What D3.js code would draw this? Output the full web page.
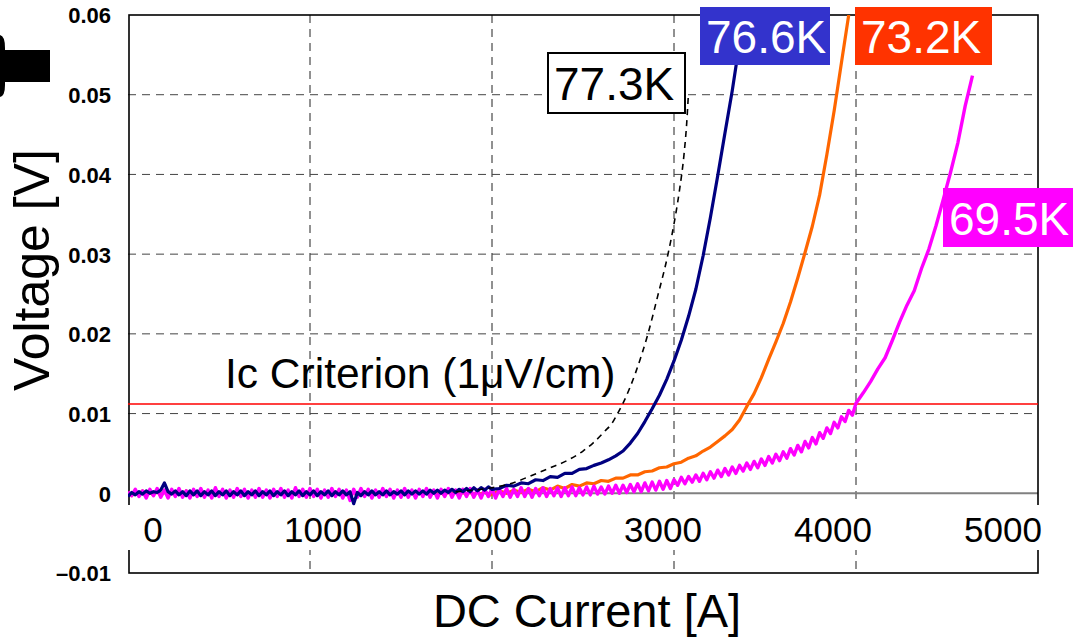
<!DOCTYPE html>
<html>
<head>
<meta charset="utf-8">
<script src="https://cdn.jsdelivr.net/npm/d3@7"></script>
<style>
  body { margin: 0; background: #fff; }
  svg text { font-family: "Liberation Sans", Arial, Helvetica, sans-serif; }
</style>
</head>
<body>
<div id="chart"></div>
<script>
// ---- data ----
// voltages in mV. "fine" part sampled every 20 A from 0 A,
// "coarse" part every 40 A right after the fine part ends.
var xTicks = [0, 1000, 2000, 3000, 4000, 5000];
var yTicks = [-0.01, 0, 0.01, 0.02, 0.03, 0.04, 0.05, 0.06];
var gridX = [1000, 2000, 3000, 4000];
var gridY = [0.01, 0.02, 0.03, 0.04, 0.05];
var criterion = 0.0112;

// 76.6K
var fine766 = [
  -0.4, 0.1, -0.2, 0.2, -0.1, 0.3, 0.0, 0.2, 0.1, 0.4, 1.3, 0.2, -0.1, 0.3, -0.2, 0.2, -0.3, 0.3, -0.2, 0.3,
  -0.3, 0.2, -0.2, 0.3, -0.3, 0.2, -0.2, 0.3, -0.3, 0.2, -0.2, 0.3, -0.3, 0.2, -0.2, 0.3, -0.3, 0.2, -0.2, 0.3,
  -0.3, 0.2, -0.2, 0.3, -0.3, 0.2, -0.2, 0.3, -0.3, 0.2, -0.2, 0.3, -0.3, 0.2, -0.2, 0.3, -0.3, 0.2, -0.2, 0.3,
  -0.2, 0.2, -1.3, 0.1, -0.3, 0.2, -0.2, 0.3, -0.2, 0.2, -0.2, 0.3, -0.2, 0.2, -0.1, 0.3, -0.2, 0.3, -0.1, 0.3,
  -0.1, 0.3, -0.1, 0.4, 0.0, 0.4, 0.0, 0.4, 0.1, 0.5, 0.1, 0.5, 0.2, 0.6, 0.2, 0.7, 0.3, 0.7, 0.4, 0.8,
  0.5];
var coarse766 = [0.6, 1.0, 0.9, 1.3, 1.2, 1.7, 1.6, 2.1, 2.0, 2.5,
  2.5, 3.0, 3.1, 3.5, 3.8, 4.2, 4.7, 5.3, 6.3, 7.5,
  9.0, 10.6, 12.3, 14.3, 16.6, 19.2, 22.2, 25.6, 29.8, 34.6,
  39.8, 45.2, 50.5, 56.5];

// 73.2K
var fine732 = [
  0.1, -0.3, 0.2, -0.2, 0.3, -0.3, 0.1, -0.2, 0.3, -0.3, 0.2, -0.2, 0.3, -0.3, 0.2, -0.3, 0.3, -0.2, 0.2, -0.3,
  0.3, -0.2, 0.2, -0.3, 0.3, -0.2, 0.2, -0.3, 0.3, -0.2, 0.2, -0.3, 0.3, -0.2, 0.2, -0.3, 0.3, -0.2, 0.3, -0.3,
  0.2, -0.3, 0.3, -0.2, 0.2, -0.3, 0.3, -0.2, 0.2, -0.4, 0.3, -0.2, 0.2, -0.3, 0.3, -0.2, 0.2, -0.3, 0.3, -0.2,
  0.3, -0.4, 0.2, -0.3, 0.3, -0.2, 0.2, -0.3, 0.3, -0.2, 0.2, -0.3, 0.3, -0.2, 0.2, -0.3, 0.3, -0.2, 0.2, -0.3,
  0.3, -0.2, 0.2, -0.3, 0.3, -0.2, 0.2, -0.3, 0.3, -0.2, 0.3, -0.3, 0.2, -0.2, 0.3, -0.3, 0.2, -0.2, 0.3, -0.3,
  -0.1];
var coarse732 = [0.3, 0.0, 0.4, 0.1, 0.5, 0.2, 0.7, 0.4, 0.9,
  0.6, 1.1, 0.9, 1.3, 1.2, 1.6, 1.5, 1.9, 1.9, 2.3,
  2.3, 2.7, 2.8, 3.2, 3.3, 3.7, 3.9, 4.4, 4.7, 5.3,
  5.8, 6.5, 7.2, 8.0, 9.2, 10.9, 12.5, 14.5, 16.8, 19.0,
  21.3, 24.0, 27.0, 30.2, 33.5, 37.4, 42.5, 48.0, 54.0, 60.0,
  66.0];

// 69.5K
var fine695 = [
  0.2, -0.3, 0.5, -0.4, 0.3, -0.6, 0.5, -0.3, 0.6, -0.5, 0.4, -0.6, 0.5, -0.4, 0.6, -0.5, 0.3, -0.6, 0.5, -0.4,
  0.6, -0.5, 0.4, -0.6, 0.7, -0.4, 0.5, -0.6, 0.4, -0.5, 0.6, -0.4, 0.5, -0.6, 0.4, -0.5, 0.6, -0.5, 0.4, -0.6,
  0.5, -0.4, 0.6, -0.5, 0.4, -0.6, 0.7, -0.4, 0.5, -0.5, 0.6, -0.4, 0.5, -0.6, 0.4, -0.5, 0.6, -0.4, 0.5, -0.6,
  0.4, -0.9, 0.5, -0.5, 0.6, -0.4, 0.5, -0.6, 0.4, -0.5, 0.6, -0.4, 0.5, -0.6, 0.4, -0.5, 0.6, -0.5, 0.4, -0.6,
  0.5, -0.4, 0.6, -0.5, 0.4, -0.6, 0.5, -0.4, 0.6, -0.5, 0.4, -0.6, 0.5, -0.4, 0.6, -0.5, 0.4, -0.6, 0.5, -0.4,
  0.6, -0.6, 0.5, -0.4, 0.6, -0.5, 0.5, -0.4, 0.7, -0.4, 0.6, -0.5, 0.6, -0.3, 0.7, -0.4, 0.6, -0.3, 0.7, -0.4,
  0.7, -0.3, 0.8, -0.3, 0.7, -0.2, 0.8, -0.2, 0.9, -0.1, 0.8, -0.1, 0.9, 0.0, 1.0, 0.0, 1.0, 0.1, 1.1, 0.2,
  1.2, 0.2, 1.3, 0.3, 1.4, 0.4, 1.5, 0.5, 1.6, 0.6, 1.7, 1.0, 2.0, 1.2, 2.1, 1.4, 2.3, 1.5, 2.5, 1.7,
  2.7, 1.9, 2.9, 2.1, 3.1, 2.3, 3.3, 2.5, 3.5, 2.8, 3.8, 3.0, 4.0, 3.2, 4.3, 3.5, 4.6, 3.8, 4.9, 4.1,
  5.2, 4.4, 5.6, 4.8, 6.0, 5.2, 6.5, 5.7, 7.0, 6.2, 7.6, 6.9, 8.2, 7.5, 8.9, 8.2, 9.6, 9.0, 10.4, 9.8,
  11.3];
var coarse695 = [12.6, 14.0, 15.6, 17.0, 19.2, 21.5, 23.6, 25.4, 28.2, 30.6,
  33.6, 36.9, 40.3, 44.0, 48.6, 52.4];

// 77.3K (smooth, dashed)
var i773 = [1800, 1900, 2000, 2100, 2225, 2320, 2412, 2500, 2555, 2620, 2660, 2690, 2720, 2790, 2857, 2910, 2967, 3000, 3030, 3055, 3070, 3078];
var v773 = [0.2, 0.4, 0.7, 1.2, 2.3, 3.2, 4.1, 5.3, 6.3, 7.8, 8.8, 10.0, 11.3, 15.2, 20.0, 24.7, 30.0, 33.8, 38.0, 42.5, 46.5, 49.6];

var names = ["77.3K", "76.6K", "73.2K", "69.5K"];

// ---- layout ----
var W = 1073, H = 638;
var svg = d3.select("#chart").append("svg").attr("width", W).attr("height", H);

var x = d3.scaleLinear().domain([0, 5000]).range([128, 1038]);
var y = d3.scaleLinear().domain([-0.01, 0.06]).range([573, 15]);
var xLab = d3.scaleLinear().domain([0, 5000]).range([153, 1003]);

function toPts(fine, coarse) {
  var pts = fine.map(function(v, k) { return {i: k * 20, v: v / 1000}; });
  var start = (fine.length - 1) * 20;
  coarse.forEach(function(v, k) { pts.push({i: start + (k + 1) * 40, v: v / 1000}); });
  return pts;
}

svg.append("defs").append("clipPath").attr("id", "clip")
  .append("rect").attr("x", x(0)).attr("y", y(0.06)).attr("width", x(5000) - x(0)).attr("height", y(-0.01) - y(0.06));

// grid
svg.selectAll(".gx").data(gridX).enter().append("line")
  .attr("x1", function(d) { return x(d); }).attr("x2", function(d) { return x(d); })
  .attr("y1", y(0.06)).attr("y2", y(-0.01))
  .attr("stroke", "#222").attr("stroke-width", 1).attr("stroke-dasharray", "8,6");
svg.selectAll(".gy").data(gridY).enter().append("line")
  .attr("x1", x(0)).attr("x2", x(5000))
  .attr("y1", function(d) { return y(d); }).attr("y2", function(d) { return y(d); })
  .attr("stroke", "#444").attr("stroke-width", 1).attr("stroke-dasharray", "8,6");

// zero line
svg.append("line").attr("x1", x(0)).attr("x2", x(5000)).attr("y1", y(0)).attr("y2", y(0))
  .attr("stroke", "#808080").attr("stroke-width", 2);

// frame
svg.append("rect").attr("x", x(0) + 1).attr("y", y(0.06)).attr("width", x(5000) - x(0) - 1).attr("height", y(-0.01) - y(0.06))
  .attr("fill", "none").attr("stroke", "#000").attr("stroke-width", 1.6);

// white band behind x tick labels
svg.append("rect").attr("x", 120).attr("y", 505).attr("width", 930).attr("height", 45).attr("fill", "#fff");

// x tick labels
svg.selectAll(".xt").data(xTicks).enter().append("text")
  .attr("x", function(d) { return xLab(d); }).attr("y", 542)
  .attr("text-anchor", "middle").attr("font-size", 35).text(function(d) { return d; });

// y tick labels
var yAxis = d3.axisLeft(y).tickValues(yTicks).tickSize(0).tickPadding(0)
  .tickFormat(function(d) { return d === 0 ? "0" : (d < 0 ? "\u2013" + d3.format(".2f")(-d) : d3.format(".2f")(d)); });
var ya = svg.append("g").attr("transform", "translate(111,0)").call(yAxis);
ya.select(".domain").remove();
ya.selectAll("text").attr("font-size", 22).attr("font-weight", "bold").attr("fill", "#000")
  .attr("font-family", "'Liberation Sans', Arial, sans-serif").attr("dy", "0.36em");

// criterion line
svg.append("line").attr("x1", x(0)).attr("x2", x(5000)).attr("y1", y(criterion)).attr("y2", y(criterion))
  .attr("stroke", "#ff0000").attr("stroke-width", 1.6);
svg.append("text").attr("x", 225).attr("y", 388).attr("font-size", 42.5).text("Ic Criterion (1\u03bcV/cm)");

// curves
var line = d3.line().x(function(d) { return x(d.i); }).y(function(d) { return y(d.v); });
var g = svg.append("g").attr("clip-path", "url(#clip)");
g.append("path").attr("d", line(toPts(fine732, coarse732))).attr("fill", "none").attr("stroke", "#ff6600").attr("stroke-width", 3.2).attr("stroke-linejoin", "round");
g.append("path").attr("d", line(toPts(fine695, coarse695))).attr("fill", "none").attr("stroke", "#ff00ff").attr("stroke-width", 3.4).attr("stroke-linejoin", "round");
g.append("path").attr("d", line(toPts(fine766, coarse766))).attr("fill", "none").attr("stroke", "#000080").attr("stroke-width", 3.2).attr("stroke-linejoin", "round");
var line2 = d3.line().x(function(d) { return x(d.i); }).y(function(d) { return y(d.v); }).curve(d3.curveMonotoneX);
g.append("path").attr("d", line2(i773.map(function(c, k) { return {i: c, v: v773[k] / 1000}; })))
  .attr("fill", "none").attr("stroke", "#000").attr("stroke-width", 1.6).attr("stroke-dasharray", "6,5");

// curve labels
var labels = [
  {t: names[0], x: 548, y: 53, w: 137, h: 60, fill: "#fff", color: "#000", stroke: "#000"},
  {t: names[1], x: 700, y: 7, w: 130, h: 58, fill: "#3333cc", color: "#fff", stroke: "none"},
  {t: names[2], x: 855, y: 7, w: 137, h: 58, fill: "#ff3300", color: "#fff", stroke: "none"},
  {t: names[3], x: 943, y: 188, w: 135, h: 59, fill: "#ff00ff", color: "#fff", stroke: "none"}
];
var lg = svg.selectAll(".lab").data(labels).enter().append("g");
lg.append("rect").attr("x", function(d) { return d.x; }).attr("y", function(d) { return d.y; })
  .attr("width", function(d) { return d.w; }).attr("height", function(d) { return d.h; })
  .attr("fill", function(d) { return d.fill; }).attr("stroke", function(d) { return d.stroke; }).attr("stroke-width", 2);
lg.append("text").attr("x", function(d) { return d.x + 6; }).attr("y", function(d) { return d.y + d.h / 2 + 17; })
  .attr("font-size", 46).attr("fill", function(d) { return d.color; }).text(function(d) { return d.t; });

// axis titles
svg.append("text").attr("x", 587).attr("y", 627).attr("text-anchor", "middle").attr("font-size", 47).text("DC Current [A]");
svg.append("text").attr("transform", "translate(49,270) rotate(-90)").attr("text-anchor", "middle").attr("font-size", 50).text("Voltage [V]");

// arrow tail at top-left
svg.append("path").attr("d", "M0,35 Q5,36 5,48 L5,50 L50,50 L50,82 L5,82 L5,85 Q5,96 0,97 Z").attr("fill", "#000");
</script>
</body>
</html>
